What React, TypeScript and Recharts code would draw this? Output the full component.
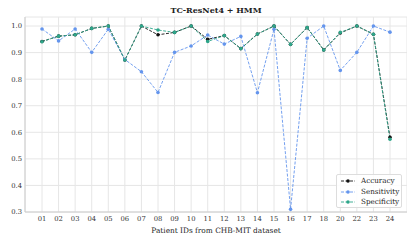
import { CartesianGrid, Line, LineChart, XAxis, YAxis } from 'recharts';

const patients = ['01', '02', '03', '04', '05', '06', '07', '08', '09', '10', '11', '12', '13', '14', '15', '16', '17', '18', '20', '22', '23', '24'];
const accuracy = [0.942, 0.962, 0.967, 0.991, 1.0, 0.872, 1.0, 0.967, 0.976, 1.0, 0.95, 0.964, 0.915, 0.97, 1.0, 0.931, 0.994, 0.91, 0.974, 1.0, 0.969, 0.581];
const sensitivity = [0.989, 0.944, 0.989, 0.901, 0.988, 0.874, 0.828, 0.75, 0.901, 0.925, 0.966, 0.932, 0.961, 0.749, 0.988, 0.31, 0.954, 1.0, 0.833, 0.901, 1.0, 0.977];
const specificity = [0.941, 0.962, 0.967, 0.991, 1.0, 0.872, 1.0, 0.985, 0.976, 1.0, 0.942, 0.964, 0.915, 0.97, 1.0, 0.931, 0.994, 0.91, 0.976, 1.0, 0.969, 0.574];
const yTicks = [0.3, 0.4, 0.5, 0.6, 0.7, 0.8, 0.9, 1.0];

const data = patients.map((id, i) => ({
  id,
  accuracy: accuracy[i],
  sensitivity: sensitivity[i],
  specificity: specificity[i],
}));

const FONT = '"DejaVu Serif", serif';
const series = [
  { key: 'accuracy', name: 'Accuracy', color: '#111111' },
  { key: 'sensitivity', name: 'Sensitivity', color: '#6495ed' },
  { key: 'specificity', name: 'Specificity', color: '#2ea68a' },
];

function LegendBox() {
  return (
    <div
      style={{
        position: 'absolute',
        left: 336,
        top: 174,
        boxSizing: 'border-box',
        width: 66,
        height: 34,
        border: '1px solid #dddddd',
        borderRadius: 2,
        background: 'rgba(255,255,255,0.85)',
        padding: '1px 0 0 3px',
        fontFamily: FONT,
        fontSize: 7.2,
        lineHeight: '10.5px',
        color: '#222',
      }}
    >
      {series.map((s) => (
        <div key={s.key} style={{ display: 'flex', alignItems: 'center', height: 10.5 }}>
          <svg width={16} height={6} style={{ marginRight: 5, flexShrink: 0 }}>
            <line x1={1} y1={3} x2={15} y2={3} stroke={s.color} strokeWidth={0.9} strokeDasharray="3 1.5" />
            <circle cx={8} cy={3} r={1.8} fill={s.color} />
          </svg>
          <span style={{ whiteSpace: 'nowrap' }}>{s.name}</span>
        </div>
      ))}
    </div>
  );
}

export default function App() {
  return (
    <div style={{ margin: -8, position: 'relative', width: 415, height: 242, background: '#fff' }}>
      <LineChart width={415} height={242} data={data} margin={{ top: 17, right: 8, left: 0, bottom: 0 }}>
        <CartesianGrid stroke="#e6e6e6" strokeWidth={1} vertical={false} />
        <CartesianGrid stroke="#e6e6e6" strokeWidth={1} horizontal={false} />
        <XAxis
          dataKey="id"
          padding={{ left: 17, right: 17 }}
          tickLine={false}
          tickSize={0}
          axisLine={{ stroke: '#cccccc' }}
          tick={{ fontFamily: FONT, fontSize: 6.8, fill: '#333' }}
          tickMargin={4}
          height={30}
          interval={0}
          label={{ value: 'Patient IDs from CHB-MIT dataset', position: 'insideBottom', offset: 9, style: { fontFamily: FONT, fontSize: 7.4, fill: '#222' } }}
        />
        <XAxis xAxisId="top" dataKey="id" orientation="top" tick={false} tickLine={false} axisLine={{ stroke: '#cccccc' }} height={0} />
        <YAxis
          domain={[0.3, 1.034]}
          ticks={yTicks}
          tickFormatter={(v: number) => v.toFixed(1)}
          tickLine={false}
          tickSize={0}
          axisLine={{ stroke: '#cccccc' }}
          tick={{ fontFamily: FONT, fontSize: 6.8, fill: '#333' }}
          tickMargin={3}
          width={25}
          allowDataOverflow
        />
        <YAxis yAxisId="right" orientation="right" tick={false} tickLine={false} axisLine={{ stroke: '#cccccc' }} width={0} />
        {series.map((s) => (
          <Line
            key={s.key}
            dataKey={s.key}
            name={s.name}
            stroke={s.color}
            strokeWidth={0.9}
            strokeDasharray="3 1.5"
            dot={{ r: 1.8, fill: s.color, stroke: s.color, strokeWidth: 0 }}
            activeDot={false}
            isAnimationActive={false}
          />
        ))}
      </LineChart>
      <div
        style={{
          position: 'absolute',
          top: 5,
          left: 25,
          width: 382,
          textAlign: 'center',
          fontFamily: FONT,
          fontWeight: 'bold',
          fontSize: 8,
          color: '#222',
        }}
      >
        TC-ResNet4 + HMM
      </div>
      <LegendBox />
    </div>
  );
}
